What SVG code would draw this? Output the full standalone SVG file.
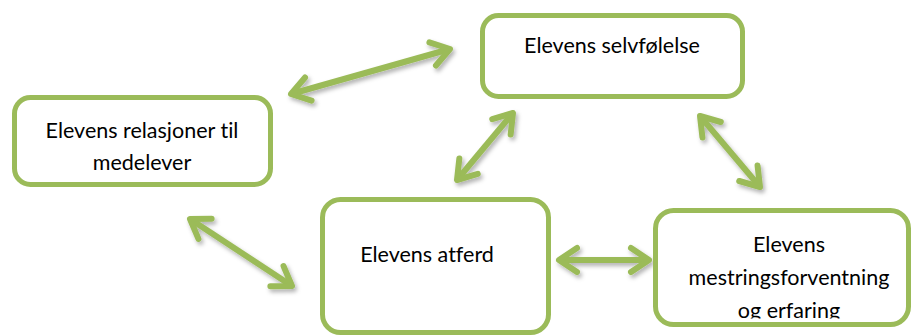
<svg xmlns="http://www.w3.org/2000/svg" width="912" height="336" viewBox="0 0 912 336">
<style>
.box{fill:#ffffff;stroke:#9BBB59;stroke-width:5}
.lbl{font-family:Lato,"Open Sans","Liberation Sans",sans-serif;font-size:21.5px;fill:#000000;text-anchor:middle;font-variant-ligatures:none;font-feature-settings:"liga" 0,"clig" 0}
.conn{fill:none;stroke:#9BBB59;stroke-width:6;marker-start:url(#head);marker-end:url(#head)}
</style>
<defs>
<marker id="head" markerUnits="userSpaceOnUse" viewBox="-24 -16 30 32" refX="0" refY="0" markerWidth="30" markerHeight="32" orient="auto-start-reverse" overflow="visible">
<path d="M-18,-12 L0,0 L-18,12" fill="none" stroke="#9BBB59" stroke-width="6" stroke-linecap="round" stroke-linejoin="round"/>
</marker>
<filter id="shadow" x="-20%" y="-20%" width="140%" height="140%">
<feDropShadow dx="2" dy="3" stdDeviation="2" flood-color="#000000" flood-opacity="0.3"/>
</filter>
<clipPath id="clip4"><rect x="650" y="200" width="262" height="118.5"/></clipPath>
</defs>
<rect width="912" height="336" fill="#ffffff"/>
<g id="connectors" filter="url(#shadow)">
<line class="conn" x1="291" y1="94" x2="450" y2="49"/>
<line class="conn" x1="513" y1="113" x2="457" y2="180"/>
<line class="conn" x1="700" y1="116" x2="760" y2="187"/>
<line class="conn" x1="190" y1="219" x2="292" y2="286"/>
<line class="conn" x1="559" y1="260" x2="649" y2="260"/>
</g>
<g id="node-relasjoner">
<rect class="box" x="14.5" y="97.5" width="256" height="87" rx="16"/>
<text class="lbl" x="142" y="138">Elevens relasjoner til</text>
<text class="lbl" x="142" y="170">medelever</text>
</g>
<g id="node-selvfolelse">
<rect class="box" x="482.5" y="15.5" width="260" height="81" rx="16"/>
<text class="lbl" x="612" y="53">Elevens selvfølelse</text>
</g>
<g id="node-atferd">
<rect class="box" x="322.5" y="199.5" width="226" height="133" rx="18"/>
<text class="lbl" x="427" y="262">Elevens atferd</text>
</g>
<g id="node-mestring">
<rect class="box" x="655.5" y="210.5" width="253" height="114" rx="18"/>
<text class="lbl" x="789" y="252">Elevens</text>
<text class="lbl" x="789" y="285">mestringsforventning</text>
<text class="lbl" x="789" y="318" clip-path="url(#clip4)">og erfaring</text>
</g>
</svg>
